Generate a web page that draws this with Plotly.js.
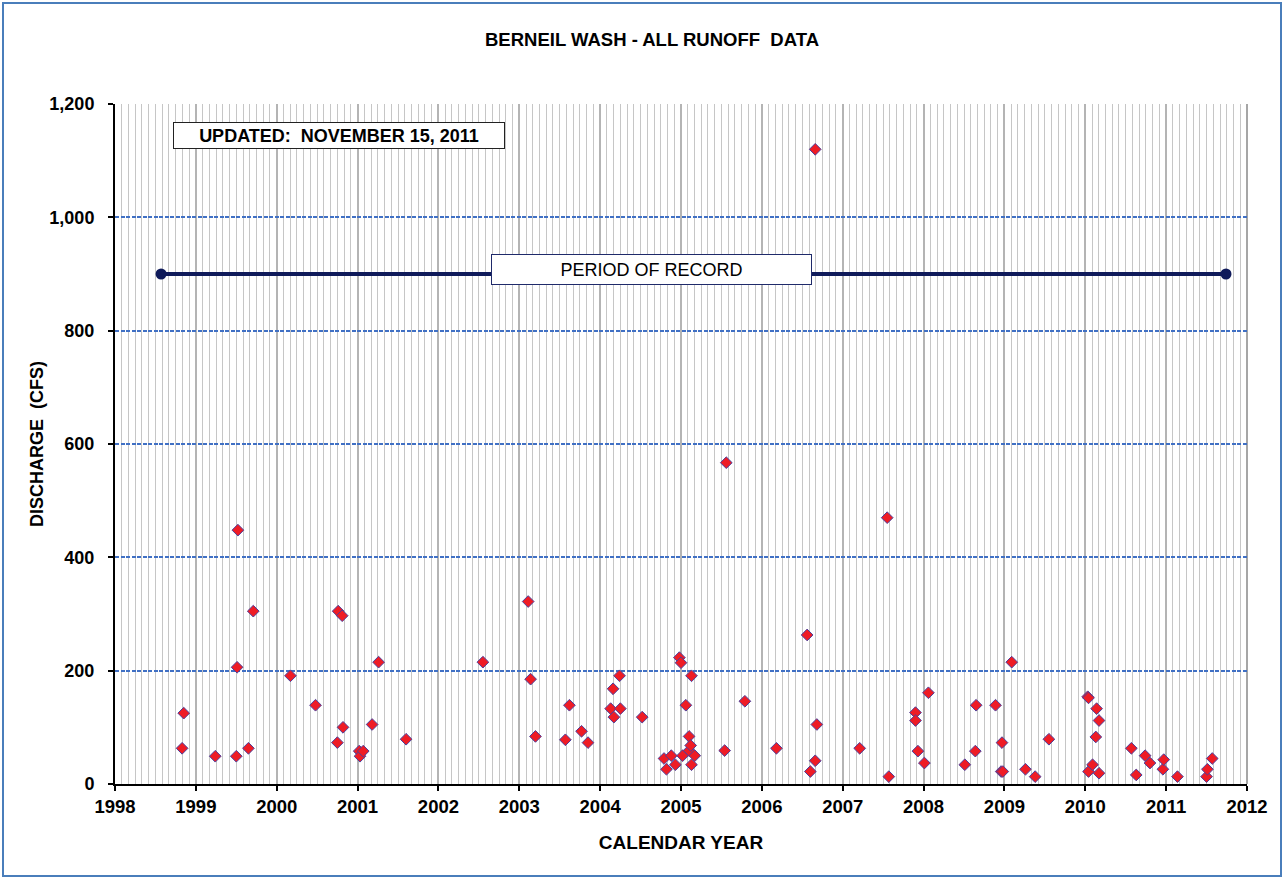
<!DOCTYPE html>
<html>
<head>
<meta charset="utf-8">
<script src="https://cdn.plot.ly/plotly-3.0.1.min.js"></script>
<style>
html,body{margin:0;padding:0;background:#fff;}
#chart{width:1286px;height:879px;}
</style>
</head>
<body>
<div id="chart"></div>
<script>
// Runoff events: decimal year and discharge (CFS)
const eventYears = [
  1998.83, 1998.85, 1999.24, 1999.50, 1999.51, 1999.52, 1999.65, 1999.71,
  2000.17, 2000.48, 2000.75, 2000.76, 2000.81, 2000.82,
  2001.02, 2001.03, 2001.07, 2001.18, 2001.26, 2001.60,
  2002.55,
  2003.11, 2003.14, 2003.20, 2003.57, 2003.62, 2003.77, 2003.85,
  2004.13, 2004.16, 2004.17, 2004.24, 2004.25, 2004.52, 2004.79, 2004.82, 2004.88, 2004.93, 2004.98,
  2005.00, 2005.02, 2005.06, 2005.10, 2005.10, 2005.12, 2005.13, 2005.13, 2005.17, 2005.54, 2005.56, 2005.79,
  2006.18, 2006.56, 2006.60, 2006.66, 2006.66, 2006.68,
  2007.21, 2007.55, 2007.57, 2007.90, 2007.90, 2007.93,
  2008.01, 2008.06, 2008.51, 2008.64, 2008.65, 2008.89, 2008.96, 2008.97, 2008.98,
  2009.09, 2009.26, 2009.38, 2009.55,
  2010.03, 2010.04, 2010.04, 2010.09, 2010.13, 2010.14, 2010.17, 2010.17, 2010.57, 2010.63, 2010.74, 2010.80, 2010.96, 2010.97,
  2011.14, 2011.50, 2011.51, 2011.57
];
const dischargeCfs = [
  63, 125, 49, 49, 206, 448, 63, 305,
  191, 139, 73, 305, 297, 100,
  58, 49, 58, 105, 215, 79,
  215,
  322, 185, 84, 78, 139, 93, 73,
  133, 168, 118, 191, 133, 118, 45, 26, 50, 34, 223,
  214, 50, 139, 84, 59, 68, 191, 34, 50, 59, 567, 146,
  63, 263, 22, 41, 1120, 105,
  63, 470, 13, 126, 112, 58,
  37, 161, 34, 58, 139, 139, 22, 73, 22,
  215, 26, 13, 79,
  154, 152, 22, 34, 83, 133, 112, 19, 63, 16, 50, 37, 26, 43,
  13, 13, 26, 45
];
// Period of record
const recordYears = [1998.57, 2011.74];
const recordLevel = [900, 900];
const yTickVals = [0, 200, 400, 600, 800, 1000, 1200];
const yTickText = ["0", "200", "400", "600", "800", "1,000", "1,200"];
const xTickVals = [1998, 1999, 2000, 2001, 2002, 2003, 2004, 2005, 2006, 2007, 2008, 2009, 2010, 2011, 2012];

const FONT = "Liberation Sans, Arial, sans-serif";

const traces = [
  {
    x: recordYears, y: recordLevel, type: 'scatter', mode: 'lines+markers',
    line: {color: '#0f1a5a', width: 4},
    marker: {color: '#0f1a5a', size: 11, symbol: 'circle'},
    hoverinfo: 'skip', showlegend: false
  },
  {
    x: eventYears, y: dischargeCfs, type: 'scatter', mode: 'markers',
    marker: {symbol: 'diamond', size: 9, color: '#ee1c25', line: {color: '#4b3f9c', width: 1}},
    showlegend: false
  }
];

const layout = {
  width: 1286, height: 879,
  margin: {l: 115, r: 39, t: 104, b: 95},
  paper_bgcolor: '#ffffff', plot_bgcolor: '#ffffff',
  font: {family: FONT, color: '#000', size: 14},
  title: {text: '<b>BERNEIL WASH - ALL RUNOFF  DATA</b>', font: {family: FONT, size: 18.5, color: '#000'}, x: 0.507, xanchor: 'center', y: 0.955, yanchor: 'middle'},
  xaxis: {
    range: [1998, 2012], tickmode: 'array', tickvals: xTickVals, ticktext: xTickVals.map(String),
    tickfont: {family: FONT, size: 18.5, color: '#000', weight: 'bold'},
    ticks: 'outside', ticklen: 5, tickwidth: 2, tickcolor: '#000',
    showline: true, linecolor: '#000', linewidth: 2,
    showgrid: true, gridcolor: '#b4b4b4', gridwidth: 2,
    minor: {dtick: 1/12, tick0: 1998, showgrid: true, gridcolor: '#c6c6c6', gridwidth: 1, ticks: ''},
    zeroline: false, fixedrange: true,
    title: {text: '<b>CALENDAR YEAR</b>', font: {family: FONT, size: 19, color: '#000'}, standoff: 19}
  },
  yaxis: {
    range: [0, 1200], tickmode: 'array', tickvals: yTickVals, ticktext: yTickText,
    tickfont: {family: FONT, size: 18, color: '#000', weight: 'bold'},
    ticks: 'outside', ticklen: 5, tickwidth: 2, tickcolor: '#000', ticklabelstandoff: 10,
    showline: true, linecolor: '#000', linewidth: 2,
    showgrid: true, gridcolor: '#4070c4', gridwidth: 2, griddash: '4px,1.5px',
    zeroline: false, fixedrange: true,
    title: {text: '<b>DISCHARGE  (CFS)</b>', font: {family: FONT, size: 18, color: '#000'}, standoff: 1}
  },
  shapes: [
    // outer chart border
    {type: 'rect', xref: 'paper', yref: 'paper',
     x0: (3 - 115) / 1132, x1: (1281 - 115) / 1132,
     y0: (784 - 876) / 680, y1: (784 - 3) / 680,
     line: {color: '#4a7ebb', width: 2}, fillcolor: 'rgba(0,0,0,0)', layer: 'below'},
    // right edge of plot area
    {type: 'line', xref: 'paper', yref: 'paper', x0: 1, x1: 1, y0: 0, y1: 1,
     line: {color: '#a6a6a6', width: 2}, layer: 'below'}
  ],
  annotations: [
    {xref: 'paper', yref: 'paper', x: 0.198, y: 0.954, xanchor: 'center', yanchor: 'middle',
     text: '<b>UPDATED:  NOVEMBER 15, 2011</b>', showarrow: false,
     font: {family: FONT, size: 18, color: '#000'},
     bgcolor: '#ffffff', bordercolor: '#222', borderwidth: 1, width: 330, height: 25, borderpad: 0},
    {xref: 'paper', yref: 'paper', x: 0.474, y: 0.757, xanchor: 'center', yanchor: 'middle',
     text: 'PERIOD OF RECORD', showarrow: false,
     font: {family: FONT, size: 18, color: '#000'},
     bgcolor: '#ffffff', bordercolor: '#1f2a6a', borderwidth: 1, width: 319, height: 29, borderpad: 0}
  ]
};

Plotly.newPlot('chart', traces, layout, {displayModeBar: false, staticPlot: true});
</script>
</body>
</html>
